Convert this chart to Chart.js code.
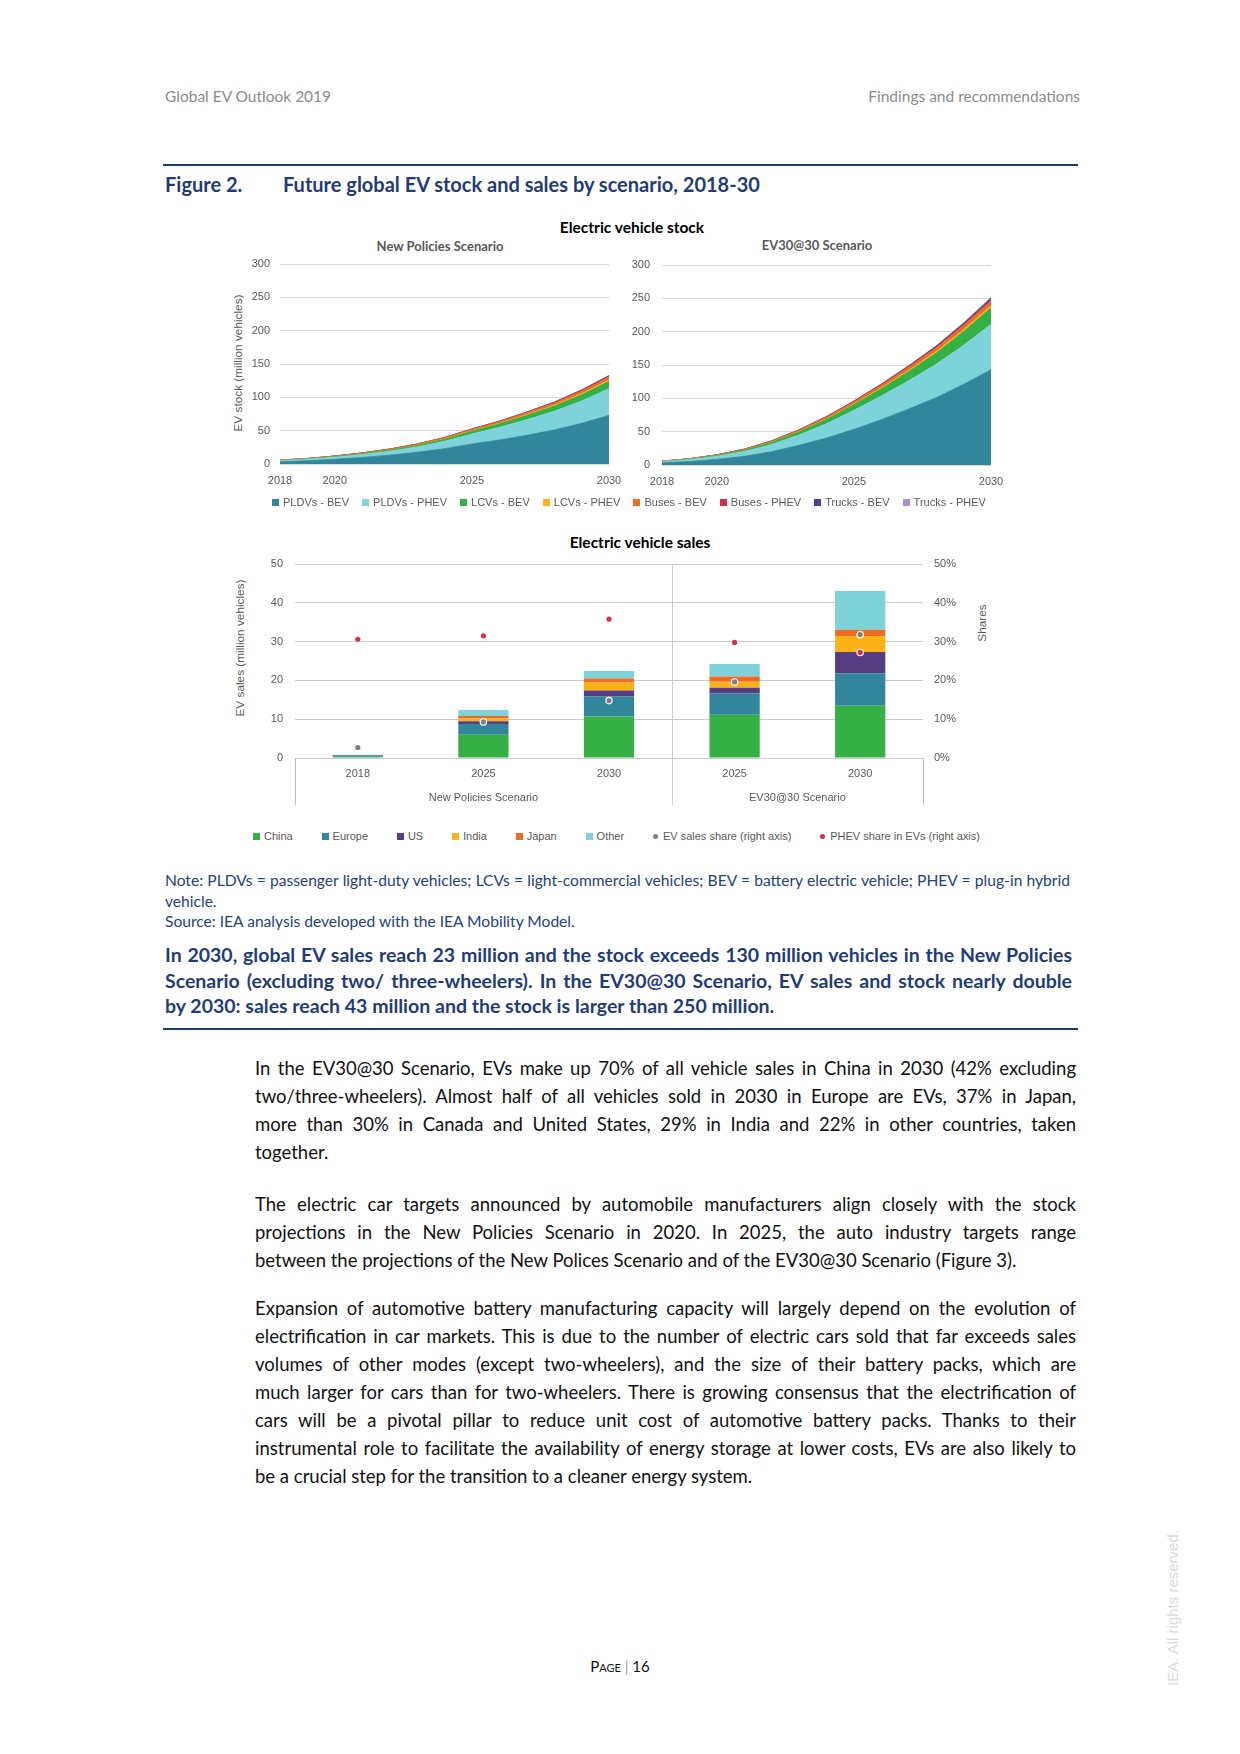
<!DOCTYPE html>
<html>
<head>
<meta charset="utf-8">
<script src="https://cdn.jsdelivr.net/npm/chart.js@4.4.1/dist/chart.umd.min.js"></script>
<style>
  body { margin: 0; background: #fff; }
  #page { position: relative; width: 1240px; height: 1754px; overflow: hidden; font-family: Lato, "Open Sans", sans-serif; }
  .abs { position: absolute; }
  canvas { position: absolute; }
  .hdr { color: #8c8c8c; font-size: 15.5px; line-height: 18px; top: 87px; }
  .rule { position: absolute; left: 163px; width: 915px; height: 2px; background: #1f3c78; }
  .fig { top: 171px; font-size: 20px; line-height: 26px; font-weight: bold; color: #1f3c78; }
  .ctitle { text-align: center; font-weight: bold; font-size: 15.5px; line-height: 18px; color: #000; }
  .csub { text-align: center; font-weight: bold; font-size: 13px; line-height: 16px; color: #595959; }
  .vt { position: absolute; transform: translate(-50%, -50%) rotate(-90deg); white-space: nowrap;
        font-family: "Liberation Sans", Arial, sans-serif; font-size: 11.8px; color: #595959; }
  .legend { position: absolute; display: flex; justify-content: space-between; align-items: center;
            font-family: "Liberation Sans", Arial, sans-serif; font-size: 11px; color: #595959; height: 16px; }
  .legend span.item { display: flex; align-items: center; white-space: nowrap; }
  .legend i { display: inline-block; width: 7px; height: 7px; margin-right: 4px; }
  .legend i.dot { width: 5px; height: 5px; border-radius: 50%; margin-right: 5px; }
  .ln { position: relative; white-space: normal; }
  .jf { text-align: justify; text-align-last: justify; }
  .note { left: 165px; width: 905px; top: 870px; font-size: 15.6px; line-height: 20.5px; color: #24427f; }
  .summ { left: 165px; width: 907px; top: 942px; font-size: 19.5px; line-height: 25.5px; color: #1f3c78; font-weight: bold; }
  .body { left: 255px; width: 821px; font-size: 18.5px; line-height: 28px; color: #111; }
</style>
</head>
<body>
<div id="page">
  <div class="abs hdr" style="left:165px">Global EV Outlook 2019</div>
  <div class="abs hdr" style="right:160px">Findings and recommendations</div>
  <div class="rule" style="top:164px"></div>
  <div class="abs fig" style="left:165px">Figure 2.</div>
  <div class="abs fig" style="left:283px">Future global EV stock and sales by scenario, 2018-30</div>

  <div class="abs ctitle" style="left:432px; width:400px; top:218px">Electric vehicle stock</div>
  <div class="abs csub" style="left:290px; width:300px; top:238px">New Policies Scenario</div>
  <div class="abs csub" style="left:667px; width:300px; top:237px">EV30@30 Scenario</div>
  <div class="vt" style="left:238px; top:363px">EV stock (million vehicles)</div>
  <canvas id="stockNps" width="400" height="250" style="left:230px; top:254px"></canvas>
  <canvas id="stockEv30" width="392" height="250" style="left:620px; top:255px"></canvas>
  <div id="stockLegend" class="legend" style="left:272px; width:714px; top:494px"></div>

  <div class="abs ctitle" style="left:440px; width:400px; top:533px">Electric vehicle sales</div>
  <div class="vt" style="left:240px; top:648px">EV sales (million vehicles)</div>
  <div class="vt" style="left:982px; top:623px">Shares</div>
  <canvas id="sales" width="723" height="256" style="left:250px; top:554px"></canvas>
  <div id="salesLegend" class="legend" style="left:253px; width:727px; top:828px"></div>

  <div class="abs note">
    <div class="ln jf">Note: PLDVs = passenger light-duty vehicles; LCVs = light-commercial vehicles; BEV = battery electric vehicle; PHEV = plug-in hybrid</div>
    <div class="ln">vehicle.</div>
    <div class="ln">Source: IEA analysis developed with the IEA Mobility Model.</div>
  </div>
  <div class="abs summ">
    <div class="ln jf">In 2030, global EV sales reach 23 million and the stock exceeds 130 million vehicles in the New Policies</div>
    <div class="ln jf">Scenario (excluding two/ three-wheelers). In the EV30@30 Scenario, EV sales and stock nearly double</div>
    <div class="ln">by 2030: sales reach 43 million and the stock is larger than 250 million.</div>
  </div>
  <div class="rule" style="top:1028px"></div>

  <div class="abs body" style="top:1054px">
    <div class="ln jf">In the EV30@30 Scenario, EVs make up 70% of all vehicle sales in China in 2030 (42% excluding</div>
    <div class="ln jf">two/three-wheelers). Almost half of all vehicles sold in 2030 in Europe are EVs, 37% in Japan,</div>
    <div class="ln jf">more than 30% in Canada and United States, 29% in India and 22% in other countries, taken</div>
    <div class="ln">together.</div>
  </div>
  <div class="abs body" style="top:1190px">
    <div class="ln jf">The electric car targets announced by automobile manufacturers align closely with the stock</div>
    <div class="ln jf">projections in the New Policies Scenario in 2020. In 2025, the auto industry targets range</div>
    <div class="ln">between the projections of the New Polices Scenario and of the EV30@30 Scenario (Figure 3).</div>
  </div>
  <div class="abs body" style="top:1294px">
    <div class="ln jf">Expansion of automotive battery manufacturing capacity will largely depend on the evolution of</div>
    <div class="ln jf">electrification in car markets. This is due to the number of electric cars sold that far exceeds sales</div>
    <div class="ln jf">volumes of other modes (except two-wheelers), and the size of their battery packs, which are</div>
    <div class="ln jf">much larger for cars than for two-wheelers. There is growing consensus that the electrification of</div>
    <div class="ln jf">cars will be a pivotal pillar to reduce unit cost of automotive battery packs. Thanks to their</div>
    <div class="ln jf">instrumental role to facilitate the availability of energy storage at lower costs, EVs are also likely to</div>
    <div class="ln">be a crucial step for the transition to a cleaner energy system.</div>
  </div>

  <div class="abs" style="left:520px; width:200px; top:1657px; text-align:center; font-size:15px; line-height:18px; color:#111">
    <span style="font-variant:small-caps">Page</span> <span style="color:#999">|</span> 16
  </div>
  <div class="abs" style="left:1172px; top:1608px; transform:translate(-50%,-50%) rotate(-90deg); white-space:nowrap;
       font-family:'Liberation Sans', Arial, sans-serif; font-size:15px; color:#dadada">IEA. All rights reserved.</div>
</div>

<script>
// --- stock data (million vehicles) ---
const stockYears = ['2018','2019','2020','2021','2022','2023','2024','2025','2026','2027','2028','2029','2030'];
const stockTickYears = ['2018', '2020', '2025', '2030'];
const stockSeries = ['PLDVs - BEV', 'PLDVs - PHEV', 'LCVs - BEV', 'LCVs - PHEV', 'Buses - BEV', 'Buses - PHEV', 'Trucks - BEV', 'Trucks - PHEV'];
const stockColors = ['#31869b', '#7ed2da', '#34b044', '#fbb216', '#ef6b22', '#d3304a', '#583e86', '#a98fcb'];

// New Policies Scenario
const npsPldvBev  = [3.3, 4.8, 7.0, 9.8, 13.3, 17.6, 23.0, 30.0, 36.0, 43.0, 51.0, 61.0, 73.0];
const npsPldvPhev = [1.8, 2.5, 3.4, 4.5, 6.0, 8.0, 11.0, 15.0, 19.0, 23.5, 28.0, 33.5, 40.0];
const npsLcvBev   = [0.25, 0.4, 0.7, 1.1, 1.6, 2.3, 3.2, 4.3, 5.3, 6.5, 7.8, 9.3, 11.0];
const npsLcvPhev  = [0.02, 0.05, 0.1, 0.15, 0.25, 0.35, 0.5, 0.7, 0.9, 1.1, 1.4, 1.7, 2.0];
const npsBusBev   = [0.4, 0.5, 0.7, 0.9, 1.1, 1.4, 1.7, 2.0, 2.4, 2.8, 3.3, 3.9, 4.5];
const npsBusPhev  = [0.05, 0.06, 0.08, 0.1, 0.13, 0.16, 0.2, 0.25, 0.3, 0.38, 0.46, 0.56, 0.7];
const npsTruckBev = [0.01, 0.02, 0.04, 0.07, 0.1, 0.15, 0.2, 0.3, 0.4, 0.55, 0.7, 0.9, 1.2];
const npsTruckPhev = [0, 0.01, 0.02, 0.03, 0.05, 0.07, 0.1, 0.15, 0.2, 0.27, 0.35, 0.45, 0.6];

// EV30@30 Scenario
const ev30PldvBev  = [3.3, 5.2, 8.4, 13.0, 20.0, 29.5, 40.5, 53.5, 68.0, 84.0, 101.0, 121.0, 143.0];
const ev30PldvPhev = [1.8, 3.0, 4.8, 7.3, 10.8, 15.5, 21.5, 28.5, 35.5, 42.5, 50.0, 58.5, 68.0];
const ev30LcvBev   = [0.25, 0.55, 1.0, 1.9, 3.2, 4.8, 6.6, 8.6, 11.0, 13.8, 17.0, 20.8, 25.0];
const ev30LcvPhev  = [0.02, 0.06, 0.12, 0.2, 0.32, 0.5, 0.7, 1.0, 1.3, 1.7, 2.1, 2.5, 3.0];
const ev30BusBev   = [0.4, 0.55, 0.8, 1.1, 1.5, 2.0, 2.6, 3.2, 3.9, 4.6, 5.4, 6.2, 7.0];
const ev30BusPhev  = [0.05, 0.07, 0.1, 0.14, 0.18, 0.23, 0.3, 0.38, 0.48, 0.6, 0.72, 0.85, 1.0];
const ev30TruckBev = [0.01, 0.03, 0.07, 0.12, 0.2, 0.32, 0.48, 0.7, 1.0, 1.4, 1.85, 2.4, 3.0];
const ev30TruckPhev = [0, 0.01, 0.03, 0.06, 0.1, 0.15, 0.22, 0.32, 0.45, 0.62, 0.82, 1.1, 1.5];

// --- sales data (million vehicles, shares in %) ---
const salesCats = ['2018', '2025', '2030', '2025', '2030'];
const salesGroups = ['New Policies Scenario', 'EV30@30 Scenario'];
const salesGroupSizes = [3, 2];
const salesSeries = ['China', 'Europe', 'US', 'India', 'Japan', 'Other'];
const salesColors = ['#34b044', '#31869b', '#563d84', '#fbb216', '#ef6b22', '#7ed2da'];
const salesChina  = [0.3, 6.0, 10.7, 11.15, 13.45];
const salesEurope = [0.35, 2.75, 5.15, 5.5, 8.4];
const salesUS     = [0.1, 0.7, 1.55, 1.45, 5.5];
const salesIndia  = [0.01, 0.8, 2.05, 1.55, 4.1];
const salesJapan  = [0.03, 0.6, 1.05, 1.35, 1.6];
const salesOther  = [0.06, 1.5, 1.95, 3.25, 10.0];
const shareSeries = ['EV sales share (right axis)', 'PHEV share in EVs (right axis)'];
const shareColors = ['#7f7f7f', '#d3304a'];
const evSalesShare = [2.7, 9.3, 14.8, 19.6, 31.8];
const phevShare    = [30.6, 31.5, 35.8, 29.8, 27.2];

Chart.defaults.font.family = "'Liberation Sans', Arial, sans-serif";
Chart.defaults.font.size = 11;
Chart.defaults.color = '#595959';

const tickFont = { family: "'Liberation Sans', Arial, sans-serif", size: 11 };
const noGrid = { display: false, drawTicks: false };

function stockChart(id, series, yWidth, tickPad) {
  return new Chart(document.getElementById(id), {
    type: 'line',
    data: {
      labels: stockYears,
      datasets: series.map((d, i) => ({
        label: stockSeries[i],
        data: d,
        backgroundColor: stockColors[i],
        borderColor: stockColors[i],
        borderWidth: 0.8,
        pointRadius: 0,
        fill: i === 0 ? 'origin' : '-1'
      }))
    },
    options: {
      responsive: false,
      animation: false,
      events: [],
      layout: { padding: { left: 0, right: 21, top: 10, bottom: 10 } },
      plugins: { legend: { display: false }, tooltip: { enabled: false } },
      scales: {
        x: {
          grid: noGrid,
          border: { display: false },
          ticks: {
            autoSkip: false, maxRotation: 0, padding: 10, font: tickFont,
            callback(v) {
              const l = this.getLabelForValue(v);
              return stockTickYears.includes(l) ? l : '';
            }
          },
          afterFit(s) { s.height = 30; s.paddingLeft = 0; s.paddingRight = 0; }
        },
        y: {
          stacked: true, min: 0, max: 300,
          grid: { color: '#d6d6d6', drawTicks: false },
          border: { display: false },
          ticks: { stepSize: 50, padding: tickPad, font: tickFont },
          afterFit(s) { s.width = yWidth; s.paddingTop = 0; s.paddingBottom = 0; }
        }
      }
    }
  });
}

stockChart('stockNps', [npsPldvBev, npsPldvPhev, npsLcvBev, npsLcvPhev, npsBusBev, npsBusPhev, npsTruckBev, npsTruckPhev], 50, 10);
stockChart('stockEv30', [ev30PldvBev, ev30PldvPhev, ev30LcvBev, ev30LcvPhev, ev30BusBev, ev30BusPhev, ev30TruckBev, ev30TruckPhev], 42, 12);

// group boundaries and centres along the category slots
const groupEdges = [0];
salesGroupSizes.forEach(n => groupEdges.push(groupEdges[groupEdges.length - 1] + n));
const groupCenters = salesGroupSizes.map((n, i) => groupEdges[i] + n / 2);

const groupLines = {
  id: 'groupLines',
  afterDraw(chart) {
    const xg = chart.scales.xg, a = chart.chartArea, ctx = chart.ctx;
    const bottom = xg.bottom - 3;
    ctx.save();
    ctx.lineWidth = 1;
    groupEdges.forEach((v, i) => {
      const inner = i > 0 && i < groupEdges.length - 1;
      const px = Math.round(xg.getPixelForValue(v)) + 0.5;
      ctx.strokeStyle = inner ? '#cfcfcf' : '#bdbdbd';
      ctx.beginPath();
      ctx.moveTo(px, inner ? a.top : a.bottom);
      ctx.lineTo(px, bottom);
      ctx.stroke();
    });
    ctx.restore();
  }
};

const salesValues = [salesChina, salesEurope, salesUS, salesIndia, salesJapan, salesOther];
const shareValues = [evSalesShare, phevShare];

new Chart(document.getElementById('sales'), {
  type: 'bar',
  data: {
    labels: salesCats,
    datasets: [
      ...shareValues.map((d, i) => ({
        type: 'line', label: shareSeries[i], data: d, yAxisID: 'y2', showLine: false,
        pointRadius: 3.2, pointBackgroundColor: shareColors[i], pointBorderColor: '#ffffff',
        pointBorderWidth: 1.2, order: 0
      })),
      ...salesValues.map((d, i) => ({
        label: salesSeries[i], data: d, backgroundColor: salesColors[i], yAxisID: 'y',
        barPercentage: 0.4, categoryPercentage: 1, order: 1
      }))
    ]
  },
  options: {
    responsive: false,
    animation: false,
    events: [],
    layout: { padding: { left: 0, right: 0, top: 10, bottom: 2 } },
    plugins: { legend: { display: false }, tooltip: { enabled: false } },
    scales: {
      x: {
        stacked: true, offset: true,
        grid: noGrid, border: { display: false },
        ticks: { padding: 9, maxRotation: 0, autoSkip: false, font: tickFont },
        afterFit(s) { s.height = 24; s.paddingLeft = 0; s.paddingRight = 0; }
      },
      xg: {
        type: 'linear', position: 'bottom', min: 0, max: salesCats.length, offset: false,
        grid: noGrid, border: { display: false },
        afterBuildTicks(s) { s.ticks = groupCenters.map(v => ({ value: v })); },
        ticks: { padding: 9, maxRotation: 0, autoSkip: false, font: tickFont,
                 callback(v) { return salesGroups[groupCenters.indexOf(v)]; } },
        afterFit(s) { s.height = 26; s.paddingLeft = 0; s.paddingRight = 0; }
      },
      y: {
        stacked: true, min: 0, max: 50,
        grid: { color: '#cccccc', drawTicks: false }, border: { display: false },
        ticks: { stepSize: 10, padding: 12, font: tickFont },
        afterFit(s) { s.width = 45; s.paddingTop = 0; s.paddingBottom = 0; }
      },
      y2: {
        position: 'right', min: 0, max: 50,
        grid: noGrid, border: { display: false },
        ticks: { stepSize: 10, padding: 11, font: tickFont, callback: v => v + '%' },
        afterFit(s) { s.width = 50; s.paddingTop = 0; s.paddingBottom = 0; }
      }
    }
  },
  plugins: [groupLines]
});

// legends (html, built from the series names and colours)
function buildLegend(id, names, colors, dots) {
  const el = document.getElementById(id);
  names.forEach((n, i) => {
    const item = document.createElement('span');
    item.className = 'item';
    const mark = document.createElement('i');
    if (dots && dots[i]) mark.className = 'dot';
    mark.style.background = colors[i];
    item.appendChild(mark);
    item.appendChild(document.createTextNode(n));
    el.appendChild(item);
  });
}
buildLegend('stockLegend', stockSeries, stockColors);
buildLegend('salesLegend', salesSeries.concat(shareSeries), salesColors.concat(shareColors),
            salesSeries.map(() => false).concat(shareSeries.map(() => true)));

// keep each text line on one line
document.querySelectorAll('.ln').forEach(el => {
  const lh = parseFloat(getComputedStyle(el).lineHeight);
  let ls = 0;
  while (el.offsetHeight > lh * 1.4 && ls > -1.5) {
    ls -= 0.05;
    el.style.letterSpacing = ls.toFixed(2) + 'px';
  }
});
</script>
</body>
</html>
